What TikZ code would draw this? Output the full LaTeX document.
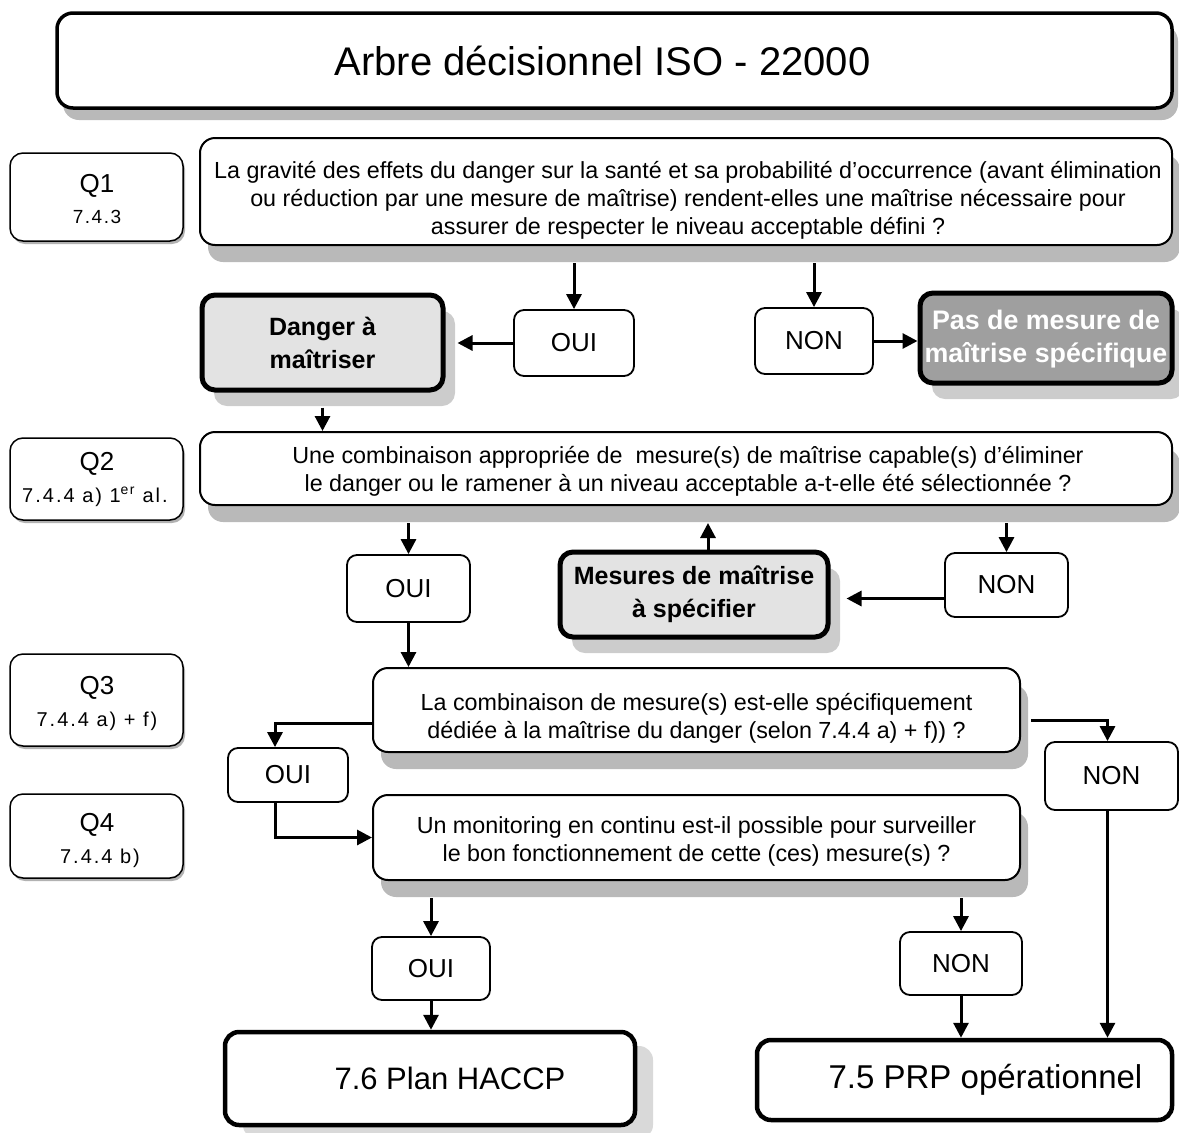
\documentclass[tikz,border=0pt]{standalone}
\usepackage{fontspec}
\setmainfont{Liberation Sans}
\newfontfamily\spacedA[LetterSpace=8]{Liberation Sans}
\newfontfamily\spacedB[LetterSpace=10]{Liberation Sans}
\usetikzlibrary{shadows,arrows.meta,calc}
\begin{document}
\begin{tikzpicture}[x=1pt,y=-1pt,
  base/.style={draw, align=center, fill=white, inner sep=0pt},
  titlebox/.style={base, line width=3.5pt, rounded corners=16pt,
     drop shadow={shadow xshift=6pt, shadow yshift=-12pt, fill=gray!55, opacity=1}},
  qbox/.style={base, line width=2pt, rounded corners=15pt,
     drop shadow={shadow xshift=8pt, shadow yshift=-17pt, fill=gray!55, opacity=1}},
  lblbox/.style={base, line width=1.5pt, rounded corners=13pt,
     drop shadow={shadow xshift=2pt, shadow yshift=-3pt, fill=gray!60, opacity=1}},
  ansbox/.style={base, line width=1.8pt, rounded corners=10pt, font=\fontsize{26}{30}\selectfont},
  keybox/.style={base, line width=5pt, rounded corners=13pt, fill=gray!22,
     font=\bfseries\fontsize{25}{33}\selectfont,
     drop shadow={shadow xshift=12pt, shadow yshift=-16pt, fill=gray!40, opacity=1}},
  endbox/.style={base, line width=4.5pt, rounded corners=14pt},
  arr/.style={line width=3pt, -{Triangle[length=15pt,width=15pt]}},
  qtext/.style={align=center, inner sep=0pt, font=\fontsize{23.3}{28}\selectfont},
  qlab/.style={font=\fontsize{26}{30}\selectfont},
  qref/.style={font=\spacedB\fontsize{20}{24}\selectfont}
]
\useasboundingbox (0,0) rectangle (1179,1133);

% title
\node[titlebox, minimum width=1115pt, minimum height=95pt, font=\fontsize{40}{44}\selectfont]
  (title) at (614.5,60.5) {\hspace*{-24pt}Arbre décisionnel ISO - 22000};

% label boxes
\node[lblbox, minimum width=173pt, minimum height=88pt] (L1) at (96.5,197) {};
\node[qlab] (L1a) at (97,186) {Q1};
\node[font=\spacedA\fontsize{19}{22}\selectfont] (L1b) at (97,217) {7.4.3};

\node[lblbox, minimum width=173pt, minimum height=82pt] (L2) at (96.5,479) {};
\node[qlab] (L2a) at (97,464) {Q2};
\node[qref] (L2b) at (95,497) {7.4.4 a) 1\textsuperscript{er} al.};

\node[lblbox, minimum width=173pt, minimum height=92pt] (L3) at (96.5,700) {};
\node[qlab] (L3a) at (97,688) {Q3};
\node[qref] (L3b) at (97,721) {7.4.4 a) + f)};

\node[lblbox, minimum width=173pt, minimum height=84pt] (L4) at (96.5,836) {};
\node[qlab] (L4a) at (97,825) {Q4};
\node[qref] (L4b) at (100,858) {7.4.4 b)};

% question boxes
\node[qbox, minimum width=972pt, minimum height=107pt] (Q1) at (686,191.5) {};
\node[qtext] (Q1t) at (688,200)
  {La gravité des effets du danger sur la santé et sa probabilité d'occurrence (avant élimination\\
   ou réduction par une mesure de maîtrise) rendent-elles une maîtrise nécessaire pour\\
   assurer de respecter le niveau acceptable défini ?};

\node[qbox, minimum width=972pt, minimum height=73pt] (Q2) at (686,468.5) {};
\node[qtext] (Q2t) at (688,471)
  {Une combinaison appropriée de \ mesure(s) de maîtrise capable(s) d'éliminer\\
   le danger ou le ramener à un niveau acceptable a-t-elle été sélectionnée ?};

\node[qbox, minimum width=647pt, minimum height=84pt] (Q3) at (696.5,710) {};
\node[qtext] (Q3t) at (696.5,718)
  {La combinaison de mesure(s) est-elle spécifiquement\\
   dédiée à la maîtrise du danger (selon 7.4.4 a) + f)) ?};

\node[qbox, minimum width=647pt, minimum height=85pt] (Q4) at (696.5,837.5) {};
\node[qtext] (Q4t) at (696.5,841)
  {Un monitoring en continu est-il possible pour surveiller\\
   le bon fonctionnement de cette (ces) mesure(s) ?};

% answer boxes
\node[ansbox, minimum width=120pt, minimum height=66pt] (OUI1) at (574,343) {OUI};
\node[ansbox, minimum width=118pt, minimum height=66pt] (NON1) at (814,341) {NON};
\node[ansbox, minimum width=123pt, minimum height=67pt] (OUI2) at (408.5,588.5) {OUI};
\node[ansbox, minimum width=123pt, minimum height=64pt] (NON2) at (1006.5,585) {NON};
\node[ansbox, minimum width=120pt, minimum height=54pt] (OUI3) at (288,775) {OUI};
\node[ansbox, minimum width=133pt, minimum height=68pt] (NON3) at (1111.5,776) {NON};
\node[ansbox, minimum width=118pt, minimum height=63pt] (OUI4) at (431,968.5) {OUI};
\node[ansbox, minimum width=122pt, minimum height=63pt] (NON4) at (961,963.5) {NON};

% key boxes
\node[keybox, minimum width=241pt, minimum height=95pt] (danger) at (322.5,342.5)
  {Danger à\\maîtriser};
\node[keybox, fill=gray!75, text=white, font=\bfseries\fontsize{26.8}{33}\selectfont,
  minimum width=252pt, minimum height=90pt] (pas) at (1046,338)
  {\rule{0pt}{22pt}Pas de mesure de\\maîtrise spécifique};
\node[keybox, minimum width=268pt, minimum height=85pt] (mes) at (694,594.5)
  {Mesures de maîtrise\\à spécifier};

% end boxes
\node[endbox, font=\fontsize{31}{36}\selectfont, minimum width=410pt, minimum height=93pt,
  drop shadow={shadow xshift=18pt, shadow yshift=-14pt, fill=gray!30, opacity=1}]
  (haccp) at (430,1078.5) {\hspace*{40pt}7.6 Plan HACCP};
\node[endbox, font=\fontsize{33}{38}\selectfont, minimum width=415pt, minimum height=80pt] (prp) at (964.5,1080)
  {\hspace*{42pt}7.5 PRP opérationnel};

% connectors
\draw[arr] ($(OUI1.north |- Q1.south)+(0,17)$) -- (OUI1.north);
\draw[arr] ($(NON1.north |- Q1.south)+(0,17)$) -- (NON1.north);
\draw[arr] (OUI1.west) -- ($(OUI1.west -| danger.east)+(12,0)$);
\draw[arr] (NON1.east) -- (NON1.east -| pas.west);
\draw[arr] ($(danger.south)+(0,15)$) -- (danger.south |- Q2.north);
\draw[arr] ($(OUI2.north |- Q2.south)+(0,17)$) -- (OUI2.north);
\draw[arr] ($(mes.north)+(14,0)$) -- ($(mes.north |- Q2.south)+(14,17)$);
\draw[arr] ($(NON2.north |- Q2.south)+(0,17)$) -- (NON2.north);
\draw[arr] ($(NON2.west |- mes.east)+(0,4)$) -- ($(mes.east)+(16,4)$);
\draw[arr] (OUI2.south) -- (OUI2.south |- Q3.north);
\draw[arr] ($(Q3.west)+(0,13)$) -| ($(OUI3.north)+(-13,0)$);
\draw[arr] ($(Q3.east)+(10,10)$) -| ($(NON3.north)+(-4,0)$);
\draw[arr] ($(OUI3.south)+(-13,0)$) |- (Q4.west);
\draw[arr] ($(OUI4.north |- Q4.south)+(0,17)$) -- (OUI4.north);
\draw[arr] ($(NON4.north |- Q4.south)+(0,17)$) -- (NON4.north);
\draw[arr] (OUI4.south) -- (OUI4.south |- haccp.north);
\draw[arr] (NON4.south) -- (NON4.south |- prp.north);
\draw[arr] ($(NON3.south)+(-4,0)$) -- ($(NON3.south |- prp.north)+(-4,0)$);
\end{tikzpicture}
\end{document}
